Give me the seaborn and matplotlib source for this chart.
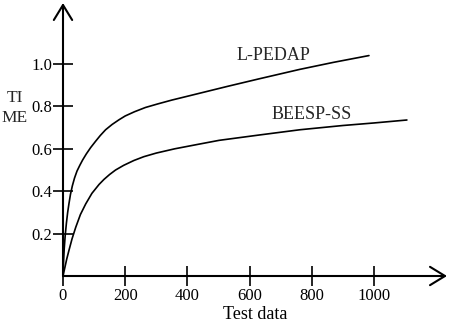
import numpy as np
import pandas as pd
import matplotlib
matplotlib.use("Agg")
import matplotlib.pyplot as plt
import seaborn as sns

# values
lpedap_x = [0, 2, 4, 7, 11, 15, 19, 24, 30, 37, 45, 54, 63, 75, 89, 105, 120, 137,
            158, 180, 200, 230, 265, 305, 350, 400, 447, 530, 630, 762, 870, 984]
lpedap_y = [0, 0.075, 0.13, 0.19, 0.25, 0.30, 0.34, 0.385, 0.425, 0.462, 0.495, 0.522,
            0.547, 0.576, 0.606, 0.636, 0.663, 0.69, 0.715, 0.737, 0.755, 0.775, 0.795,
            0.812, 0.83, 0.848, 0.865, 0.895, 0.93, 0.975, 1.008, 1.04]

beesp_x = [0, 3, 6, 12, 19, 29, 41, 56, 73, 93, 116, 132, 150, 169, 195, 228, 260,
           300, 359, 430, 502, 630, 762, 900, 1000, 1106]
beesp_y = [0, 0.02, 0.04, 0.08, 0.12, 0.175, 0.23, 0.29, 0.34, 0.39, 0.432, 0.456,
           0.479, 0.50, 0.522, 0.545, 0.563, 0.58, 0.60, 0.62, 0.64, 0.665, 0.69,
           0.71, 0.722, 0.736]

x_ticks = [0, 200, 400, 600, 800, 1000]
y_ticks = [0.2, 0.4, 0.6, 0.8, 1.0]

df = pd.concat([
    pd.DataFrame({"Test data": lpedap_x, "TIME": lpedap_y, "method": "L-PEDAP"}),
    pd.DataFrame({"Test data": beesp_x, "TIME": beesp_y, "method": "BEESP-SS"}),
])

sns.set_theme(style="white")
plt.rcParams["font.family"] = ["Liberation Serif", "DejaVu Serif"]

fig = plt.figure(figsize=(4.51, 3.26), dpi=100)
ax = fig.add_axes([63 / 451, 50 / 326, 384 / 451, 273 / 326])

sns.lineplot(data=df, x="Test data", y="TIME", hue="method",
             palette=["black", "black"], linewidth=1.2, legend=False, ax=ax)

ax.set_xlim(0, 1235)
ax.set_ylim(0, 1.288)
for s in ax.spines.values():
    s.set_visible(False)

ax.set_xticks(x_ticks)
ax.set_xticklabels([str(t) for t in x_ticks])
ax.set_yticks(y_ticks)
ax.set_yticklabels([f"{t:.1f}" for t in y_ticks])
ax.tick_params(axis="both", direction="inout", length=14, width=1.2,
               color="black", labelsize=12, labelcolor="black")
ax.tick_params(axis="x", pad=2)
ax.tick_params(axis="y", pad=1)
ax.yaxis.set_ticks_position("left")
ax.xaxis.set_ticks_position("bottom")

# axes drawn as arrows
arrow = dict(arrowstyle="->,head_length=0.9,head_width=0.55", color="black",
             lw=1.5, shrinkA=0, shrinkB=0)
ax.annotate("", xy=(0, 1), xytext=(0, 0), xycoords="axes fraction",
            textcoords="axes fraction", arrowprops=arrow, annotation_clip=False)
ax.annotate("", xy=(1, 0), xytext=(0, 0), xycoords="axes fraction",
            textcoords="axes fraction", arrowprops=arrow, annotation_clip=False)

ax.set_xlabel("Test data", fontsize=13, color="black", labelpad=1)
ax.set_ylabel("")
fig.text(15 / 451, 1 - 108 / 326, "TI\nME", fontsize=12.5, ha="center", va="center",
         linespacing=1.4)

ax.text(678, 1.04, "L-PEDAP", fontsize=13, ha="center", va="center")
ax.text(800, 0.764, "BEESP-SS", fontsize=13, ha="center", va="center")

fig.savefig("out.png", dpi=100)
